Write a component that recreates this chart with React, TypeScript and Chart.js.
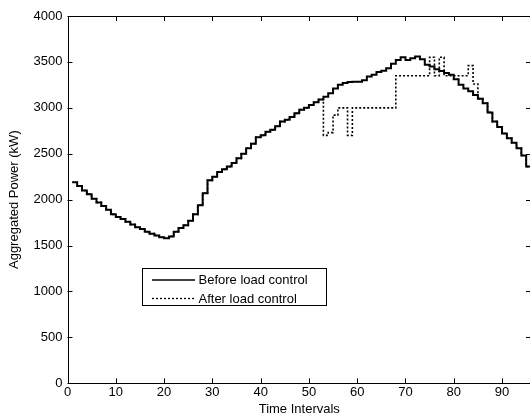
import React, { useEffect, useRef } from "react";
import { Chart, registerables } from "chart.js";

Chart.register(...registerables);

// Time interval index (1..96, one per quarter hour)
const intervals: number[] = Array.from({ length: 96 }, (_, i) => i + 1);

const beforeControl: number[] = [
  2190, 2150, 2100, 2060, 2010, 1970, 1930, 1890, 1840, 1810,
  1790, 1760, 1730, 1700, 1680, 1650, 1630, 1610, 1590, 1580,
  1600, 1650, 1690, 1720, 1770, 1840, 1940, 2070, 2210, 2250,
  2300, 2330, 2360, 2400, 2450, 2500, 2560, 2610, 2680, 2700,
  2740, 2760, 2800, 2850, 2870, 2900, 2940, 2980, 3000, 3030,
  3060, 3090, 3120, 3160, 3210, 3250, 3270, 3280, 3285, 3285,
  3300, 3340, 3360, 3390, 3405, 3430, 3480, 3520, 3550, 3520,
  3540, 3560, 3530, 3470, 3450, 3420, 3400, 3380, 3360, 3310,
  3250, 3210, 3180, 3140, 3100, 3050, 2950, 2850, 2790, 2720,
  2670, 2620, 2560, 2480, 2360, 2330,
];

const afterControl: number[] = [
  2190, 2150, 2100, 2060, 2010, 1970, 1930, 1890, 1840, 1810,
  1790, 1760, 1730, 1700, 1680, 1650, 1630, 1610, 1590, 1580,
  1600, 1650, 1690, 1720, 1770, 1840, 1940, 2070, 2210, 2250,
  2300, 2330, 2360, 2400, 2450, 2500, 2560, 2610, 2680, 2700,
  2740, 2760, 2800, 2850, 2870, 2900, 2940, 2980, 3000, 3030,
  3060, 3090, 2700, 2730, 2920, 3000, 3000, 2700, 3000, 3000,
  3000, 3000, 3000, 3000, 3000, 3000, 3000, 3350, 3350, 3350,
  3350, 3350, 3350, 3350, 3550, 3350, 3550, 3350, 3350, 3350,
  3350, 3350, 3460, 3260, 3100, 3050, 2950, 2850, 2790, 2720,
  2670, 2620, 2560, 2480, 2360, 2330,
];

const xTicks: number[] = [0, 10, 20, 30, 40, 50, 60, 70, 80, 90];
const yTicks: number[] = [0, 500, 1000, 1500, 2000, 2500, 3000, 3500, 4000];

const seriesLabels: string[] = ["Before load control", "After load control"];
const xTitle = "Time Intervals";
const yTitle = "Aggregated Power (kW)";

const FONT = '"Liberation Sans", Arial, Helvetica, sans-serif';

function toPoints(vals: number[]) {
  const pts = vals.map((v, i) => ({ x: intervals[i], y: v }));
  // extend last stair step by one interval
  pts.push({ x: intervals[intervals.length - 1] + 1, y: vals[vals.length - 1] });
  return pts;
}

const framePlugin = {
  id: "matlabFrame",
  afterDraw(chart: any) {
    const { ctx, chartArea: a, scales } = chart;
    const xs = scales.x;
    const ys = scales.y;
    ctx.save();
    ctx.strokeStyle = "#000";
    ctx.lineWidth = 1;
    ctx.beginPath();
    ctx.rect(Math.round(a.left) + 0.5, Math.round(a.top) + 0.5, Math.round(a.right - a.left), Math.round(a.bottom - a.top));
    ctx.stroke();
    const tl = 5;
    ctx.beginPath();
    xTicks.forEach((v) => {
      const px = Math.round(xs.getPixelForValue(v)) + 0.5;
      ctx.moveTo(px, a.bottom);
      ctx.lineTo(px, a.bottom - tl);
      ctx.moveTo(px, a.top);
      ctx.lineTo(px, a.top + tl);
    });
    yTicks.forEach((v) => {
      const py = Math.round(ys.getPixelForValue(v)) + 0.5;
      ctx.moveTo(a.left, py);
      ctx.lineTo(a.left + tl, py);
      ctx.moveTo(a.right, py);
      ctx.lineTo(a.right - tl, py);
    });
    ctx.stroke();

    // axis titles
    ctx.fillStyle = "#000";
    ctx.font = `13px ${FONT}`;
    ctx.textAlign = "center";
    ctx.textBaseline = "middle";
    ctx.fillText(xTitle, (a.left + a.right) / 2, 409);
    ctx.save();
    ctx.translate(14, (a.top + a.bottom) / 2);
    ctx.rotate(-Math.PI / 2);
    ctx.fillText(yTitle, 0, 0);
    ctx.restore();

    // legend
    const bx = 142.5, by = 268.5, bw = 184, bh = 37;
    ctx.fillStyle = "#fff";
    ctx.fillRect(bx, by, bw, bh);
    ctx.strokeStyle = "#000";
    ctx.lineWidth = 1;
    ctx.strokeRect(bx, by, bw, bh);
    const rows = [280, 298.5];
    chart.data.datasets.forEach((ds: any, i: number) => {
      const ry = rows[i];
      ctx.beginPath();
      ctx.setLineDash(ds.borderDash || []);
      ctx.lineWidth = 1.3;
      ctx.strokeStyle = ds.borderColor;
      ctx.moveTo(152, ry);
      ctx.lineTo(195, ry);
      ctx.stroke();
      ctx.setLineDash([]);
      ctx.fillStyle = "#000";
      ctx.textAlign = "left";
      ctx.textBaseline = "middle";
      ctx.fillText(ds.label, 198.5, ry + 0.5);
    });
    ctx.restore();
  },
};

export default function App() {
  const ref = useRef<HTMLCanvasElement | null>(null);

  useEffect(() => {
    if (!ref.current) return;
    const chart = new Chart(ref.current, {
      type: "line",
      data: {
        datasets: [
          {
            label: seriesLabels[0],
            data: toPoints(beforeControl),
            borderColor: "#000",
            borderWidth: 2,
            pointRadius: 0,
            stepped: "before",
            fill: false,
            borderJoinStyle: "miter",
            borderCapStyle: "butt",
          },
          {
            label: seriesLabels[1],
            data: toPoints(afterControl),
            borderColor: "#000",
            borderWidth: 1.6,
            borderDash: [2, 2],
            pointRadius: 0,
            stepped: "before",
            fill: false,
            borderJoinStyle: "miter",
            borderCapStyle: "butt",
          },
        ],
      },
      options: {
        responsive: false,
        animation: false,
        devicePixelRatio: 1,
        layout: { padding: { top: 16, right: 9, bottom: 0, left: 0 } },
        plugins: {
          legend: { display: false },
          tooltip: { enabled: false },
        },
        scales: {
          x: {
            type: "linear",
            min: 0,
            max: 96,
            grid: { display: false, drawTicks: false },
            border: { display: false },
            afterBuildTicks: (axis: any) => {
              axis.ticks = xTicks.map((v) => ({ value: v }));
            },
            afterFit: (s: any) => {
              s.height = 34.7;
            },
            ticks: {
              color: "#000",
              padding: 1,
              maxRotation: 0,
              autoSkip: false,
              font: { family: FONT, size: 13 },
              callback: (v: any) => String(v),
            },
          },
          y: {
            type: "linear",
            min: 0,
            max: 4000,
            grid: { display: false, drawTicks: false },
            border: { display: false },
            afterBuildTicks: (axis: any) => {
              axis.ticks = yTicks.map((v) => ({ value: v }));
            },
            afterFit: (s: any) => {
              s.width = 67.5;
            },
            ticks: {
              color: "#000",
              padding: 5,
              autoSkip: false,
              font: { family: FONT, size: 13 },
              callback: (v: any) => String(v),
            },
          },
        },
      },
      plugins: [framePlugin],
    } as any);
    return () => chart.destroy();
  }, []);

  return (
    <div
      style={{
        position: "absolute",
        left: 0,
        top: 0,
        width: 530,
        height: 418,
        overflow: "hidden",
        background: "#fff",
      }}
    >
      <canvas ref={ref} width={540} height={418} style={{ display: "block" }} />
    </div>
  );
}
